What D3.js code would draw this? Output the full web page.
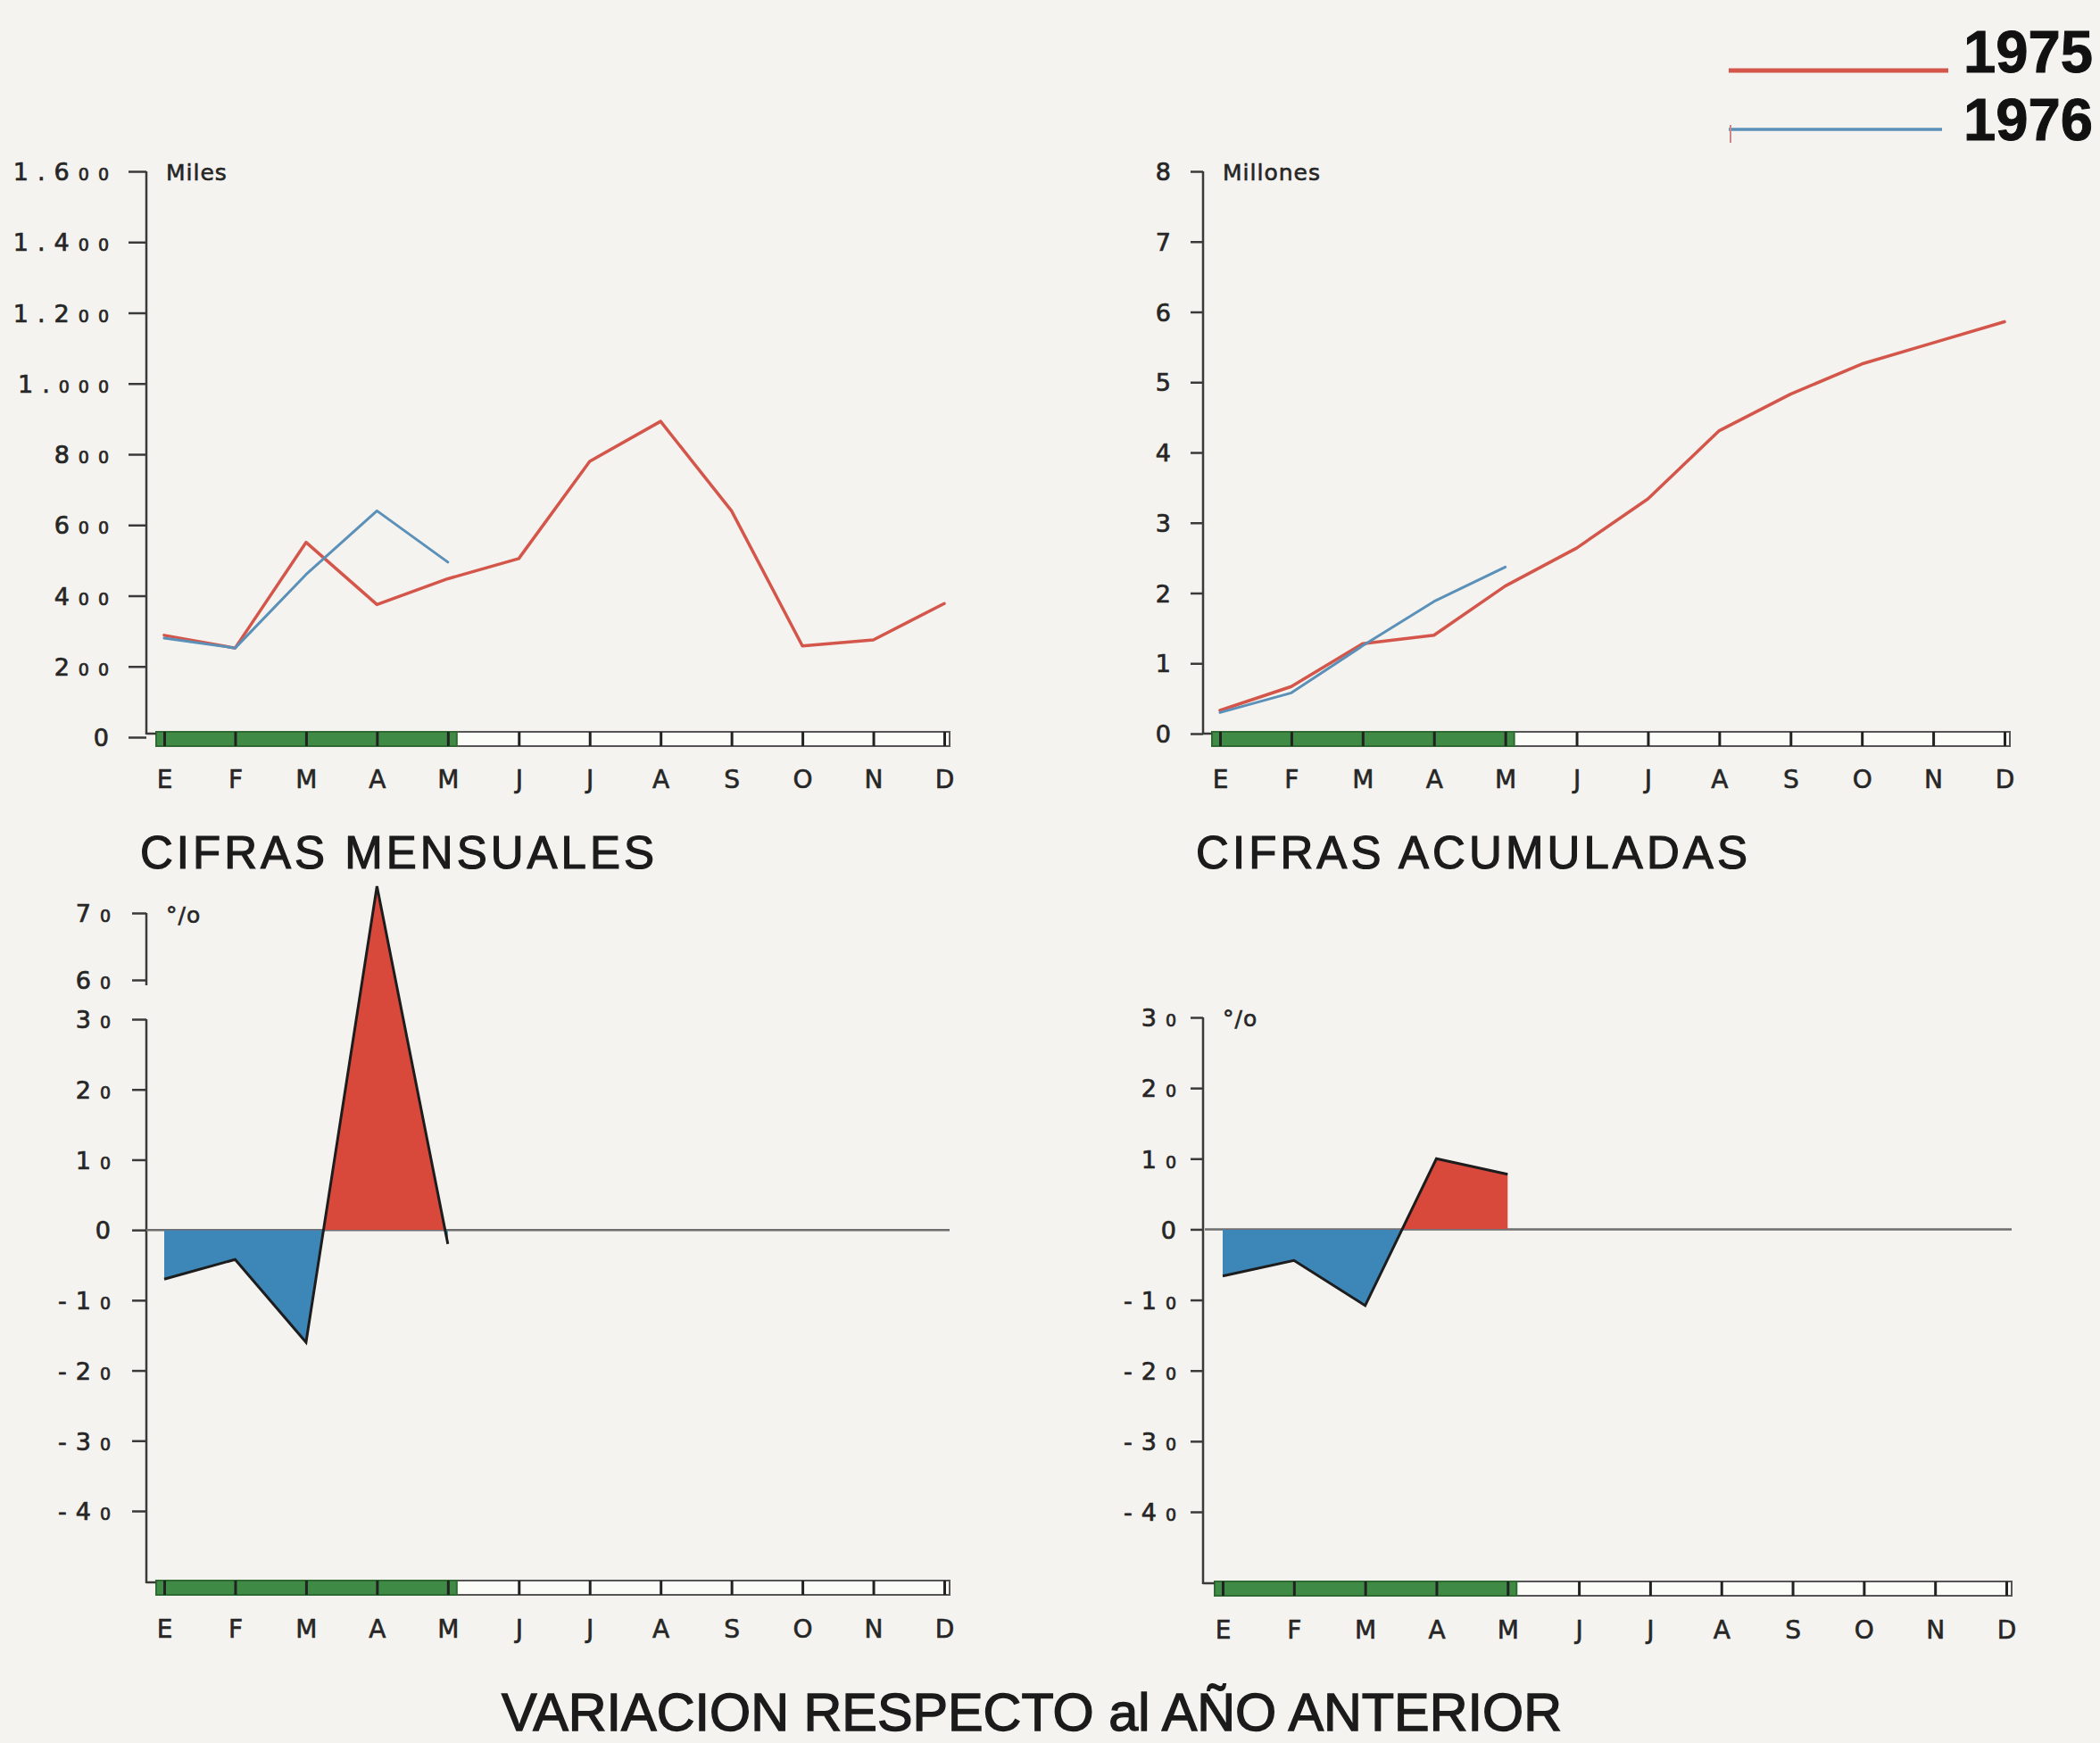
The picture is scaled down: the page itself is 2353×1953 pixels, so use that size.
<!DOCTYPE html>
<html><head><meta charset="utf-8">
<script src="https://cdn.jsdelivr.net/npm/d3@7"></script>
<style>
html,body{margin:0;padding:0;background:#f4f3ef;}
svg{display:block;}
</style></head><body>
<svg id="c" width="2353" height="1953"></svg>
<script>
// ---------- DATA ----------
const months = ["E","F","M","A","M","J","J","A","S","O","N","D"];
const mensual1975 = [288,252,551,375,448,505,780,893,640,258,275,378];
const mensual1976 = [280,252,460,640,495];
const acum1975 = [0.33,0.67,1.28,1.40,2.10,2.64,3.34,4.31,4.83,5.26,5.56,5.86];
const acum1976 = [0.30,0.58,1.25,1.88,2.37];
const varMensual = [-7,-4.2,-16,74,-2];
const varAcum = [-6.6,-4.4,-10.8,10,7.8];
const ticksMensual = [0,200,400,600,800,1000,1200,1400,1600];
const ticksAcum = [0,1,2,3,4,5,6,7,8];
const ticksVarMensual = [70,60,30,20,10,0,-10,-20,-30,-40];
const ticksVarAcum = [30,20,10,0,-10,-20,-30,-40];
const legendYears = ["1975","1976"];
const unitLabels = ["Miles","Millones","°/o"];
const titles = ["CIFRAS MENSUALES","CIFRAS ACUMULADAS","VARIACION RESPECTO al AÑO ANTERIOR"];
const monthsDone = 5; // months of 1976 available (green band)

// ---------- STYLE ----------
const C = {
  red:"#d4564b", blue:"#5b90b8", redFill:"#d8493b", blueFill:"#3d87b8",
  green:"#3f8a45", ink:"#262626", axis:"#3a3a3a", zero:"#6e6e6e"
};
const FONT = "'DejaVu Sans', sans-serif";
const TFONT = "'Liberation Sans', Arial, sans-serif";

const svg = d3.select("#c");
svg.append("rect").attr("width",2353).attr("height",1953).attr("fill","#f4f3ef");

const loc = d3.formatLocale({decimal:",", thousands:".", grouping:[3], currency:["",""], minus:"-"});
const fmt = loc.format(",d");

function styleTickText(sel, big, small){
  sel.each(function(d){
    const t = d3.select(this);
    let s = fmt(d);
    t.text(null).attr("font-size", big);
    if (s === "0"){ t.append("tspan").text("0"); return; }
    const m = s.match(/^(.*?)(0*)$/);
    t.append("tspan").text(m[1]);
    if (m[2]) t.append("tspan").attr("font-size", small).text(m[2]);
  });
}

function panel(o){
  const g = svg.append("g");
  const x = d3.scalePoint().domain(d3.range(12)).range([o.xE, o.xD]);
  const y = o.y;
  const bandH = 16;
  const bx0 = o.xE - 9, bx1 = o.xD + 6;

  // band
  g.append("rect").attr("x",bx0).attr("y",o.bandTop).attr("width",bx1-bx0).attr("height",bandH)
    .attr("fill","#fbfbf8").attr("stroke","#555").attr("stroke-width",2);
  g.append("rect").attr("x",bx0).attr("y",o.bandTop).attr("width",x(monthsDone-1)+10-bx0).attr("height",bandH)
    .attr("fill",C.green).attr("stroke","#2f6a33").attr("stroke-width",2);

  // x axis (ticks cross the band)
  const xa = g.append("g").attr("transform",`translate(0,${o.bandTop})`)
    .call(d3.axisBottom(x).tickSize(bandH).tickFormat(i => months[i]));
  xa.select(".domain").remove();
  xa.selectAll(".tick line").attr("stroke","#222").attr("stroke-width",3);
  xa.selectAll(".tick text").attr("y",o.labelDy).attr("dy",0)
    .attr("font-family",FONT).attr("font-size",28).attr("fill",C.ink)
    .attr("stroke",C.ink).attr("stroke-width",0.6);

  // y axis
  const ya = g.append("g").attr("transform",`translate(${o.axisX},0)`)
    .call(d3.axisLeft(y).tickValues(o.ticks).tickSize(o.tick).tickPadding(o.pad));
  ya.select(".domain").remove();
  ya.selectAll(".tick line").attr("stroke",C.axis).attr("stroke-width",2.5);
  ya.selectAll(".tick text").attr("font-family",FONT).attr("fill",C.ink)
    .attr("stroke",C.ink).attr("stroke-width",0.7)
    .attr("letter-spacing",o.ls).attr("dy","0.36em")
    .call(styleTickText, o.big, o.small);

  // axis domain line(s)
  const yTop = d3.min(o.ticks, t => y(t));
  const segs = o.segs || [[yTop, o.bandTop + 3]];
  segs.forEach(s => {
    g.append("line").attr("x1",o.axisX).attr("x2",o.axisX).attr("y1",s[0]).attr("y2",s[1])
      .attr("stroke",C.axis).attr("stroke-width",2.5);
  });
  g.append("line").attr("x1",o.axisX).attr("x2",bx0).attr("y1",o.bandTop+2).attr("y2",o.bandTop+2)
    .attr("stroke",C.axis).attr("stroke-width",2.5);

  // unit label
  g.append("text").attr("x",o.axisX+22).attr("y",o.unitY).attr("font-family",FONT)
    .attr("font-size",25).attr("fill",C.ink).attr("stroke",C.ink).attr("stroke-width",0.6)
    .attr("letter-spacing",1).text(o.unit);

  return {g,x,y};
}

function lines(p, series){
  series.forEach(s => {
    p.g.append("path").datum(s.data)
      .attr("d", d3.line().x((d,i)=>p.x(i)).y(d=>p.y(d)))
      .attr("fill","none").attr("stroke",s.color).attr("stroke-width",s.w)
      .attr("stroke-linejoin","round").attr("stroke-linecap","round");
  });
}

function variation(p, data, id){
  const y0 = p.y(0);
  p.g.append("line").attr("x1",p.x.range()[0]-20).attr("x2",p.x.range()[1]+6)
    .attr("y1",y0).attr("y2",y0).attr("stroke",C.zero).attr("stroke-width",2.5);
  const defs = svg.append("defs");
  defs.append("clipPath").attr("id",id+"up").append("rect")
    .attr("x",0).attr("y",0).attr("width",2353).attr("height",y0);
  defs.append("clipPath").attr("id",id+"dn").append("rect")
    .attr("x",0).attr("y",y0).attr("width",2353).attr("height",1953-y0);
  const area = d3.area().x((d,i)=>p.x(i)).y0(y0).y1(d=>p.y(d));
  p.g.append("path").datum(data).attr("d",area).attr("fill",C.redFill).attr("clip-path",`url(#${id}up)`);
  p.g.append("path").datum(data).attr("d",area).attr("fill",C.blueFill).attr("clip-path",`url(#${id}dn)`);
  p.g.append("path").datum(data).attr("d",d3.line().x((d,i)=>p.x(i)).y(d=>p.y(d)))
    .attr("fill","none").attr("stroke","#1d1d1d").attr("stroke-width",3).attr("stroke-linejoin","miter");
}

// ---------- PANELS ----------
const pTL = panel({
  xE:184, xD:1058, axisX:164, bandTop:820, labelDy:63,
  y: d3.scaleLinear().domain([0,1600]).range([826,192]),
  ticks: ticksMensual, tick:20, pad:12, big:27, small:19, ls:10, unit:unitLabels[0], unitY:202
});
lines(pTL, [{data:mensual1975,color:C.red,w:3.5},{data:mensual1976,color:C.blue,w:3}]);

const pTR = panel({
  xE:1367, xD:2246, axisX:1348, bandTop:820, labelDy:63,
  y: d3.scaleLinear().domain([0,8]).range([822,192]),
  ticks: ticksAcum, tick:14, pad:22, big:27, small:19, ls:0, unit:unitLabels[1], unitY:202
});
lines(pTR, [{data:acum1975,color:C.red,w:3.5},{data:acum1976,color:C.blue,w:3}]);

const yBL = d3.scaleLinear().domain([-40,30,60,70]).range([1693,1142,1098,1023]);
const pBL = panel({
  xE:184, xD:1058, axisX:164, bandTop:1771, labelDy:64,
  y: yBL, ticks: ticksVarMensual, tick:16, pad:14, big:27, small:19, ls:10,
  unit:unitLabels[2], unitY:1034,
  segs: [[yBL(70), yBL(60)+6], [yBL(30), 1774]]
});
variation(pBL, varMensual, "bl");

const pBR = panel({
  xE:1370, xD:2248, axisX:1348, bandTop:1772, labelDy:64,
  y: d3.scaleLinear().domain([-40,30]).range([1694,1140]),
  ticks: ticksVarAcum, tick:14, pad:6, big:27, small:19, ls:10,
  unit:unitLabels[2], unitY:1150
});
variation(pBR, varAcum, "br");

// ---------- TITLES ----------
svg.append("text").attr("x",157).attr("y",973).attr("font-family",TFONT).attr("font-size",51)
  .attr("fill","#1b1b1b").attr("stroke","#1b1b1b").attr("stroke-width",1.2)
  .attr("textLength",576).attr("lengthAdjust","spacing").text(titles[0]);
svg.append("text").attr("x",1340).attr("y",973).attr("font-family",TFONT).attr("font-size",51)
  .attr("fill","#1b1b1b").attr("stroke","#1b1b1b").attr("stroke-width",1.2)
  .attr("textLength",618).attr("lengthAdjust","spacing").text(titles[1]);
svg.append("text").attr("x",562).attr("y",1939).attr("font-family",TFONT).attr("font-size",60)
  .attr("fill","#1b1b1b").attr("stroke","#1b1b1b").attr("stroke-width",1.4)
  .attr("textLength",1188).attr("lengthAdjust","spacingAndGlyphs").text(titles[2]);

// ---------- LEGEND ----------
const lg = svg.append("g");
lg.append("line").attr("x1",1937).attr("x2",2183).attr("y1",79).attr("y2",79)
  .attr("stroke",C.red).attr("stroke-width",5);
lg.append("line").attr("x1",1937).attr("x2",2176).attr("y1",145).attr("y2",145)
  .attr("stroke",C.blue).attr("stroke-width",3.5);
lg.append("line").attr("x1",1939).attr("x2",1939).attr("y1",140).attr("y2",160)
  .attr("stroke","#c88").attr("stroke-width",2);
legendYears.forEach((t,i) => {
  lg.append("text").attr("x",2200).attr("y",[81,157][i])
    .attr("font-family",TFONT).attr("font-weight","bold")
    .attr("font-size",67).attr("fill","#111").attr("stroke","#111").attr("stroke-width",1)
    .attr("textLength",145).attr("lengthAdjust","spacingAndGlyphs").text(t);
});
</script>
</body></html>
